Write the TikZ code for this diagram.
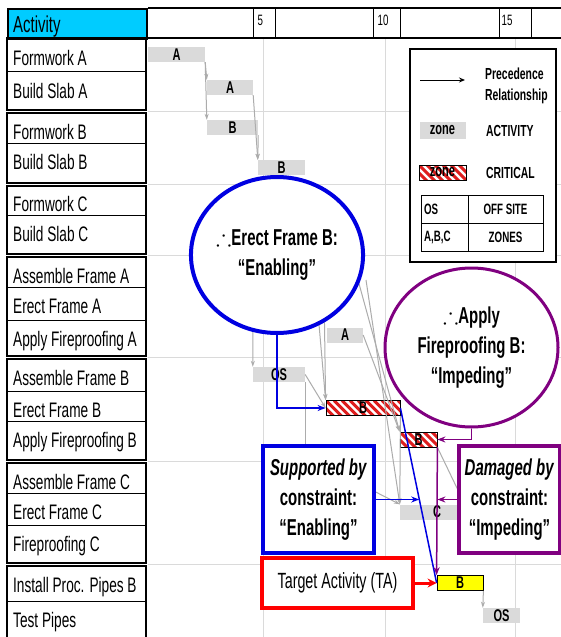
\documentclass[tikz,border=0pt]{standalone}
\usepackage{amssymb}
\usepackage{fontspec}
\newfontfamily\narrowsans[FakeStretch=0.65]{Liberation Sans}
\usetikzlibrary{shapes.geometric, arrows.meta, calc}

\definecolor{hdcyan}{RGB}{0,204,255}
\definecolor{bargray}{RGB}{218,218,218}
\definecolor{linkgray}{RGB}{172,172,172}
\definecolor{gridgray}{RGB}{218,218,218}
\definecolor{enabblue}{RGB}{0,0,225}
\definecolor{imppurple}{RGB}{128,0,128}
\definecolor{tared}{RGB}{255,0,0}
\definecolor{hatchred}{RGB}{222,30,30}
\definecolor{tayellow}{RGB}{255,255,0}

\tikzset{
  rowlabel/.style={anchor=base west, inner sep=0, font=\narrowsans\fontsize{21}{22}\selectfont},
  grpline/.style={line width=1.6},
  rowline/.style={line width=1},
  gridline/.style={draw=gridgray, line width=0.8},
  numcell/.style={draw, line width=1, minimum height=30, inner sep=0},
  numtxt/.style={anchor=north west, inner sep=0, font=\narrowsans\fontsize{15}{15}\selectfont},
  bar/.style={fill=bargray, minimum height=15, inner sep=0, font=\narrowsans\bfseries\fontsize{17}{17}\selectfont},
  critbar/.style={bar, draw=black, line width=0.8, fill=white, path picture={
      \foreach \k in {-24,-16,...,80}
        \draw[hatchred, line width=3] ([xshift=\k pt]path picture bounding box.north west) -- ++(16pt,-16pt);}},
  prec/.style={draw=linkgray, line width=1, -{Stealth[length=6pt,width=4pt]}},
  link/.style={draw=linkgray, line width=1},
  thought/.style={ellipse, fill=white, inner sep=0, align=center, font=\narrowsans\bfseries\fontsize{23}{30}\selectfont},
  cbox/.style={draw, fill=white, line width=4, inner sep=0, align=center, font=\narrowsans\bfseries\fontsize{23}{30}\selectfont},
  enab/.style={draw=enabblue, line width=1.5},
  imp/.style={draw=imppurple, line width=1.5},
  tip/.style={-{Stealth[length=8pt,width=6pt]}},
  legtxt/.style={anchor=west, inner sep=0, align=left, font=\narrowsans\bfseries\fontsize{16}{21}\selectfont},
  tcell/.style={draw, line width=1, minimum height=28, inner sep=3, font=\narrowsans\bfseries\fontsize{15}{15}\selectfont},
}

\begin{document}
\begin{tikzpicture}[x=1pt, y=-1pt]
  \useasboundingbox (0,0) rectangle (561,637);
  \clip (0,0) rectangle (561,637);
  \fill[white] (0,0) rectangle (561,637);

  % Chart grid
  \foreach \x in {263,385,515}
    \draw[gridline] (\x,38) -- (\x,637);
  \foreach \y in {111.5,184.5,255.5,357.5,461.5,564.5}
    \draw[gridline] (148,\y) -- (561,\y);

  % Time scale
  \draw[line width=2] (148,8) -- (561,8);
  \draw[line width=2.5] (148,38) -- (561,38);
  \node[numcell, minimum width=22] (hd5) at (264,23) {};
  \node[numcell, minimum width=27] (hd10) at (386.5,23) {};
  \node[numcell, minimum width=32] (hd15) at (515,23) {};
  \node[numtxt] (n5) at ([shift={(5pt,-7pt)}]hd5.north west) {5};
  \node[numtxt] (n10) at ([shift={(5pt,-7pt)}]hd10.north west) {10};
  \node[numtxt] (n15) at ([shift={(3pt,-7pt)}]hd15.north west) {15};

  % Activity column
  \node[draw, line width=1.6, fill=hdcyan, minimum width=139, minimum height=30, inner sep=0, anchor=north west] (acthd) at (7,8) {};
  \node[rowlabel, font=\narrowsans\fontsize{23}{23}\selectfont] (acttxt) at (13,32) {Activity};
  \foreach \t/\b in {38/110,113/183,186/254,257/356,359/460,463/563,566/645}
    \draw[grpline] (7,\t) rectangle (146,\b);
  \foreach \y in {71,143,215,287,320,391,421,493,525,601}
    \draw[rowline] (7,\y) -- (146,\y);
  \node[rowlabel] (lFwA) at (13,65) {Formwork A};
  \node[rowlabel] (lBlA) at (13,98) {Build Slab A};
  \node[rowlabel] (lFwB) at (13,139) {Formwork B};
  \node[rowlabel] (lBlB) at (13,169) {Build Slab B};
  \node[rowlabel] (lFwC) at (13,211) {Formwork C};
  \node[rowlabel] (lBlC) at (13,241) {Build Slab C};
  \node[rowlabel] (lAsmA) at (13,283) {Assemble Frame A};
  \node[rowlabel] (lErA) at (13,313) {Erect Frame A};
  \node[rowlabel] (lFpA) at (13,346) {Apply Fireproofing A};
  \node[rowlabel] (lAsmB) at (13,385) {Assemble Frame B};
  \node[rowlabel] (lErB) at (13,417) {Erect Frame B};
  \node[rowlabel] (lFpB) at (13,447) {Apply Fireproofing B};
  \node[rowlabel] (lAsmC) at (13,489) {Assemble Frame C};
  \node[rowlabel] (lErC) at (13,519) {Erect Frame C};
  \node[rowlabel] (lFpC) at (13,551) {Fireproofing C};
  \node[rowlabel] (lPip) at (13,592) {Install Proc. Pipes B};
  \node[rowlabel] (lTest) at (13,627) {Test Pipes};

  % Bars
  \node[bar, minimum width=57] (fwA) at (176.5,54.5) {A};
  \node[bar, minimum width=46] (blA) at (230,87.5) {A};
  \node[bar, minimum width=51] (fwB) at (232.5,127.5) {B};
  \node[bar, minimum width=47] (blB) at (281.5,167.5) {B};
  \node[bar, minimum width=36] (fpA) at (345,335) {A};
  \node[bar, minimum width=52] (asmB) at (279,374.5) {OS};
  \node[critbar, minimum width=74] (erB) at (363,408) {B};
  \node[critbar, minimum width=37] (fpB) at (418.5,439.5) {B};
  \node[bar, minimum width=74] (erC) at (437,512) {C};
  \node[bar, draw=black, line width=0.8, fill=tayellow, minimum width=46] (pipB) at (460,583) {B};
  \node[bar, minimum width=37] (testP) at (501.5,615.5) {OS};

  % Precedence links (some run under the callouts)
  \coordinate (hidC) at (253,300);
  \coordinate (hidD) at (316,290);
  \coordinate (hidE) at (324,290);
  \coordinate (hidF) at (358,280);
  \coordinate (hidG) at (366,280);
  \coordinate (asmC) at (362,485);
  \coordinate (fpC) at (482,540);
  \draw[prec] (fwA.south east) -- (blA.north west);
  \draw[prec] (fwA.south east) -- (fwB.north west);
  \draw[prec] (blA.south east) -- (blB.north west);
  \draw[prec] (fwB.south east) -- (blB.north west);
  \draw[prec] (hidC) -- (asmB.north west);
  \draw[prec] (hidD) -- (erB.north west);
  \draw[prec] (hidE) -- (erB.north west);
  \draw[prec] (hidF) -- (fpB.north west);
  \draw[prec] (hidG) -- (erC.north west);
  \draw[prec] (asmB.east) -- (erB.west);
  \draw[prec] (fpA.east) -- (fpB.north west);
  \draw[prec] (erB.south east) -- (erC.north west);
  \draw[link] (asmB.south east) -- (asmB.south east |- asmC);
  \draw[prec] (asmC) -- (erC.north west);
  \draw[link] (fpB.south east) -- (fpC);
  \draw[prec] (pipB.south east) -- (testP.north west);

  % Callouts
  \node[thought, draw=enabblue, line width=4, minimum width=172, minimum height=156] (enabEll) at (277,255) {$\therefore$Erect Frame B:\\“Enabling”};
  \node[thought, draw=imppurple, line width=3, minimum width=173, minimum height=159] (impEll) at (471.5,347.5) {$\therefore$Apply\\Fireproofing B:\\“Impeding”};
  \node[cbox, draw=enabblue, minimum width=111, minimum height=107] (supBox) at (318.5,499.5) {\textit{Supported by}\\constraint:\\“Enabling”};
  \node[cbox, draw=imppurple, minimum width=101, minimum height=107] (dmgBox) at (509.5,499.5) {\textit{Damaged by}\\constraint:\\“Impeding”};
  \node[cbox, draw=tared, minimum width=151, minimum height=50, font=\narrowsans\fontsize{22}{24}\selectfont] (taBox) at (337.5,583) {Target Activity (TA)};

  % Constraint arrows
  \coordinate (enabHit) at ($(erB.east)!0.52!(pipB.west)$);
  \draw[enab, tip] (enabEll.south) |- (erB.west);
  \draw[enab] (erB.east) -- (pipB.west);
  \draw[enab, tip] (supBox.east) -- (supBox.east -| enabHit);
  \draw[imp, tip] (impEll.south) |- (fpB.east);
  \draw[imp, tip] (fpB.south east) -- (pipB.north west);
  \draw[imp, tip] (dmgBox.west) -- (dmgBox.west -| fpB.east);
  \draw[draw=tared, line width=3, -{Stealth[length=9pt,width=9pt]}] (taBox.east) -- (pipB.west);

  % Legend
  \node[draw, line width=2, fill=white, minimum width=146, minimum height=213, inner sep=0] (legend) at (483,155.5) {};
  \coordinate (legA) at (420,80);
  \coordinate (legB) at (465,80);
  \draw[line width=1, -{Stealth[length=6pt,width=5pt]}] (legA) -- (legB);
  \node[legtxt] (legPrec) at (485,85.5) {Precedence\\Relationship};
  \node[bar, minimum width=46, minimum height=17] (legZone) at (442.5,130.5) {zone};
  \node[legtxt] (legAct) at (486,131) {ACTIVITY};
  \node[critbar, minimum width=47] (legCrit) at (442.5,172.5) {zone};
  \node[legtxt] (legCritTxt) at (486,172.5) {CRITICAL};
  \node[tcell, text width=41, align=left] (tOS) at (444.5,209) {OS};
  \node[tcell, minimum width=75] (tOff) at (505.5,209) {OFF SITE};
  \node[tcell, text width=41, align=left] (tABC) at (444.5,237) {A,B,C};
  \node[tcell, minimum width=75] (tZones) at (505.5,237) {ZONES};
\end{tikzpicture}
\end{document}
